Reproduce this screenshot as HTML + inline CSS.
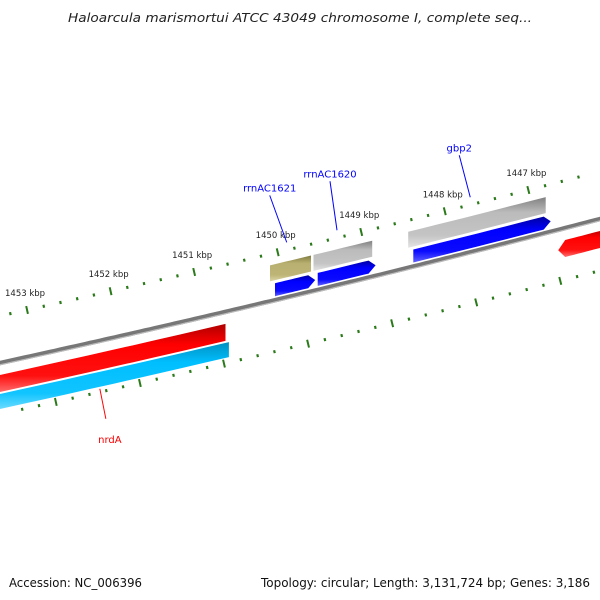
<!DOCTYPE html>
<html><head><meta charset="utf-8"><style>
body{margin:0;background:#fff}
svg{display:block;font-family:"DejaVu Sans","Liberation Sans",sans-serif}
</style></head><body>
<svg id="map" width="600" height="600" viewBox="0 0 600 600">
<defs>
<linearGradient id="gRed" x1="0" y1="0" x2="0" y2="1"><stop offset="0" stop-color="#b00000"/><stop offset="0.3" stop-color="#ff0000"/><stop offset="0.75" stop-color="#ff1010"/><stop offset="1" stop-color="#ff7070"/></linearGradient>
<linearGradient id="gCyan" x1="0" y1="0" x2="0" y2="1"><stop offset="0" stop-color="#0090c0"/><stop offset="0.3" stop-color="#00bfff"/><stop offset="0.75" stop-color="#10c4ff"/><stop offset="1" stop-color="#70dcff"/></linearGradient>
<linearGradient id="gGray" x1="0" y1="0" x2="0" y2="1"><stop offset="0" stop-color="#808080"/><stop offset="0.3" stop-color="#bbbbbb"/><stop offset="0.75" stop-color="#c4c4c4"/><stop offset="1" stop-color="#e4e4e4"/></linearGradient>
<linearGradient id="gOlive" x1="0" y1="0" x2="0" y2="1"><stop offset="0" stop-color="#807a40"/><stop offset="0.3" stop-color="#b8b070"/><stop offset="0.75" stop-color="#bdb476"/><stop offset="1" stop-color="#dcd6a8"/></linearGradient>
<linearGradient id="gBlue" x1="0" y1="0" x2="0" y2="1"><stop offset="0" stop-color="#0000a0"/><stop offset="0.3" stop-color="#0000ff"/><stop offset="0.75" stop-color="#0a0aff"/><stop offset="1" stop-color="#6060ff"/></linearGradient>
</defs>
<text x="300" y="22" text-anchor="middle" font-size="12" font-style="italic" fill="#222" textLength="464" lengthAdjust="spacingAndGlyphs">Haloarcula marismortui ATCC 43049 chromosome I, complete seq...</text>
<text x="9" y="587" font-size="12" fill="#111" textLength="133" lengthAdjust="spacingAndGlyphs">Accession: NC_006396</text>
<text x="261" y="587" font-size="12" fill="#111" textLength="329" lengthAdjust="spacingAndGlyphs">Topology: circular; Length: 3,131,724 bp; Genes: 3,186</text>
</svg>
<script>
// data
const majorTicks = [1453, 1452, 1451, 1450, 1449, 1448, 1447];
const tickLabels = ["1453 kbp","1452 kbp","1451 kbp","1450 kbp","1449 kbp","1448 kbp","1447 kbp"];
const featNames = ["nrdA","nrdA-cds","rrnAC1621","rrnAC1620","gbp2","rrnAC1621-cds","rrnAC1620-cds","gbp2-cds","rev-gene"];
const featStart = [1453.5, 1453.5, 1450.22, 1449.70, 1448.57, 1450.16, 1449.65, 1448.51, 1446.78];
const featEnd   = [1450.75, 1450.71, 1449.73, 1449.00, 1446.93, 1449.68, 1448.96, 1446.87, 1446.20];
const featTrack = ["in1","in2","out1","out1","out1","out0","out0","out0","in1"];
const featFill  = ["gRed","gCyan","gOlive","gGray","gGray","gBlue","gBlue","gBlue","gRed"];
const featArrow = [0,0,0,0,0,1,1,1,-1];
const labelTexts = ["rrnAC1621","rrnAC1620","gbp2","nrdA"];
const labelKbp = [1450.02, 1449.42, 1447.83, 1452.25];

const svg = document.getElementById('map');
const NS = 'http://www.w3.org/2000/svg';
function xOf(kbp){ return 37 + (1453 - kbp) * 83.8; }
function baseY(x){ return 363 - 0.2187*x - 3.56e-5*x*x; }
function ptNorm(x, off){
  const s = -0.2187 - 2*3.56e-5*x; const n = Math.sqrt(1+s*s);
  return [x - s*off/n, baseY(x) + off/n];
}
function ptV(x, off){ return [x, baseY(x) + off]; }
const tracks = {out1:[-36,-20], out0:[-17,-4], in1:[12,29], in2:[31,46]};
function mk(tag, attrs){ const e=document.createElementNS(NS,tag); for(const k in attrs) e.setAttribute(k,attrs[k]); svg.appendChild(e); return e; }

// backbone
let d='';
for(let x=-5;x<=605;x+=5){ const p=ptV(x,0); d+=(x===-5?'M':'L')+p[0].toFixed(1)+','+p[1].toFixed(1); }
const bb = mk('path',{d:d,stroke:'#777','stroke-width':4.5,fill:'none'});


const bb2 = mk('path',{d:d,stroke:'#bbb','stroke-width':1.2,fill:'none',transform:'translate(0,1.8)'});



// ticks
function tickRow(offset, shift, name){
  for(let k=1454.0; k>=1445.8; k-=0.2){
    const kr = Math.round(k*5)/5;
    const x = xOf(kr) + shift;
    if(x<-5||x>605) continue;
    const major = Math.abs(kr - Math.round(kr))<0.01;
    const len = major?8:3;
    const a=ptNorm(x, offset - len/2), b=ptNorm(x, offset + len/2);
    const t = mk('line',{x1:a[0],y1:a[1],x2:b[0],y2:b[1],stroke:'#2a7a1a','stroke-width':major?2:2.2});
    
    
  }
}
tickRow(-46, 0, 'outer-tick');
tickRow(50, 8, 'inner-tick');
majorTicks.forEach((k,i)=>{
  const p = ptNorm(xOf(k), -46);
  const t = mk('text',{x:p[0]-2,y:p[1]-14,'text-anchor':'middle','font-size':8.5,fill:'#222'});
  t.textContent = tickLabels[i];
  
  
});

// features
featNames.forEach((nm,i)=>{
  const x1 = Math.min(xOf(featStart[i]), xOf(featEnd[i])), x2 = Math.max(xOf(featStart[i]), xOf(featEnd[i]));
  const [o1,o2] = tracks[featTrack[i]];
  const mid = (o1+o2)/2, ah = 7;
  let pts=[];
  const xa = featArrow[i]===1 ? x2-ah : x2, xb = featArrow[i]===-1 ? x1+ah : x1;
  for(let x=xb;x<=xa+0.01;x+=(xa-xb)/10) pts.push(ptV(x,o1));
  if(featArrow[i]===1) pts.push(ptV(x2,mid));
  for(let x=xa;x>=xb-0.01;x-=(xa-xb)/10) pts.push(ptV(x,o2));
  if(featArrow[i]===-1) pts.push(ptV(x1,mid));
  const g = mk('polygon',{points:pts.map(p=>p[0].toFixed(1)+','+p[1].toFixed(1)).join(' '),fill:'url(#'+featFill[i]+')'});
  
  
});

// labels
labelTexts.forEach((lb,i)=>{
  const x = xOf(labelKbp[i]);
  const inner = lb==='nrdA';
  const a = inner ? ptV(x, 48) : ptV(x, -55);
  const b = inner ? [a[0]+6, a[1]+30] : [a[0]-(lb==='gbp2'?11:(lb==='rrnAC1620'?7:17)), a[1]-(lb==='gbp2'?42:(lb==='rrnAC1620'?49:47))];
  const col = inner?'#ff0000':'#0000ff';
  const l = mk('line',{x1:a[0],y1:a[1],x2:b[0],y2:b[1],stroke:col,'stroke-width':1});
  
  
  const t = mk('text',{x:b[0]+(inner?4:0),y:inner?b[1]+24:b[1]-4,'text-anchor':'middle','font-size':10,fill:col});
  t.textContent = lb;
  
  
});
</script>
</body></html>
